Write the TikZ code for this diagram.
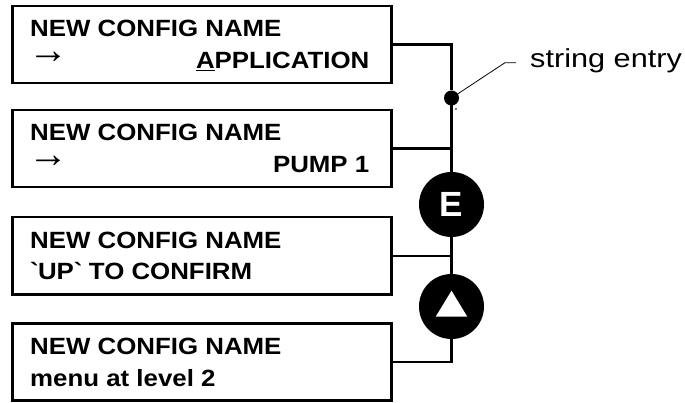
\documentclass[tikz,border=0pt]{standalone}
\usepackage{fontspec}
\usepackage{graphicx}
\setmainfont{Liberation Sans}
\newfontfamily\lcdfont[FakeStretch=1.1]{Liberation Sans}
\newfontfamily\labfont[FakeStretch=1.18]{Liberation Sans}
\begin{document}
\begin{tikzpicture}[x=1pt,y=-1pt,
  lcdbox/.style={draw,line width=2.6pt,minimum width=379pt,minimum height=77pt,inner sep=0pt,outer sep=0pt},
  lcdtext/.style={inner sep=0pt,font=\lcdfont\bfseries\fontsize{23.5}{28}\selectfont},
  arrowtext/.style={inner sep=0pt,font=\fontsize{26}{30}\selectfont},
  conn/.style={line width=2.3pt},
  keybtn/.style={circle,fill=black,minimum size=65pt,inner sep=0pt,outer sep=0pt},
  junction/.style={circle,fill=black,minimum size=15pt,inner sep=0pt,outer sep=0pt},
  leader/.style={line width=0.8pt},
  labtext/.style={inner sep=0pt,font=\labfont\fontsize{26}{30}\selectfont}]
\useasboundingbox (0,0) rectangle (685,403);
% boxes
\node[lcdbox] (b1) at (202,44.5) {};
\node[lcdbox] (b2) at (202,148.5) {};
\node[lcdbox] (b3) at (202,255.7) {};
\node[lcdbox] (b4) at (202,362) {};
% texts
\node[lcdtext,anchor=base west] (t1a) at ([xshift=17.5pt,yshift=7.5pt]b1.west) {NEW CONFIG NAME};
\node[arrowtext,anchor=base west] (t1r) at ([xshift=15.4pt,yshift=-18.6pt]b1.west) {\smash{\resizebox{40pt}{!}{→}}};
\node[lcdtext,anchor=base east] (t1b) at ([xshift=-22pt,yshift=-24pt]b1.east) {\underline{A}PPLICATION};
\node[lcdtext,anchor=base west] (t2a) at ([xshift=17.5pt,yshift=7.5pt]b2.west) {NEW CONFIG NAME};
\node[arrowtext,anchor=base west] (t2r) at ([xshift=15.4pt,yshift=-18.6pt]b2.west) {\smash{\resizebox{40pt}{!}{→}}};
\node[lcdtext,anchor=base east] (t2b) at ([xshift=-22pt,yshift=-24pt]b2.east) {PUMP 1};
\node[lcdtext,anchor=base west] (t3a) at ([xshift=17.5pt,yshift=7.5pt]b3.west) {NEW CONFIG NAME};
\node[lcdtext,anchor=base west] (t3b) at ([xshift=17.5pt,yshift=-24pt]b3.west) {\textasciigrave UP\textasciigrave{} TO CONFIRM};
\node[lcdtext,anchor=base west] (t4a) at ([xshift=17.5pt,yshift=7.5pt]b4.west) {NEW CONFIG NAME};
\node[lcdtext,anchor=base west] (t4b) at ([xshift=17.5pt,yshift=-24pt]b4.west) {menu at level 2};
% bus elements
\node[junction] (d) at (451.5,98) {};
\node[keybtn] (e) at (451.5,204.5) {};
\node[text=white,inner sep=0pt,font=\bfseries\fontsize{35}{40}\selectfont] (el) at (e.center) {E};
\node[keybtn] (u) at (451.5,306.5) {};
\fill[white] ([yshift=15.8pt]u.center) -- ([xshift=-15.8pt,yshift=-10.2pt]u.center) -- ([xshift=15.8pt,yshift=-10.2pt]u.center) -- cycle;
\fill (456,109) circle (0.8pt);
% connectors
\draw[conn] (b1.east) -| (d);
\draw[conn] (d) -- (e);
\draw[conn] (b2.east) -- (b2.east -| e.center);
\draw[conn] (e) -- (u);
\draw[conn] (b3.east) -- (b3.east -| e.center);
\draw[conn] (u) |- (b4.east);
% leader and label
\coordinate (lk) at (505,62.7);
\coordinate (le) at (516,62.7);
\draw[leader] (d.center) -- (lk) -- (le);
\node[labtext,anchor=base west] (se) at (530,68) {string entry};
\end{tikzpicture}
\end{document}
